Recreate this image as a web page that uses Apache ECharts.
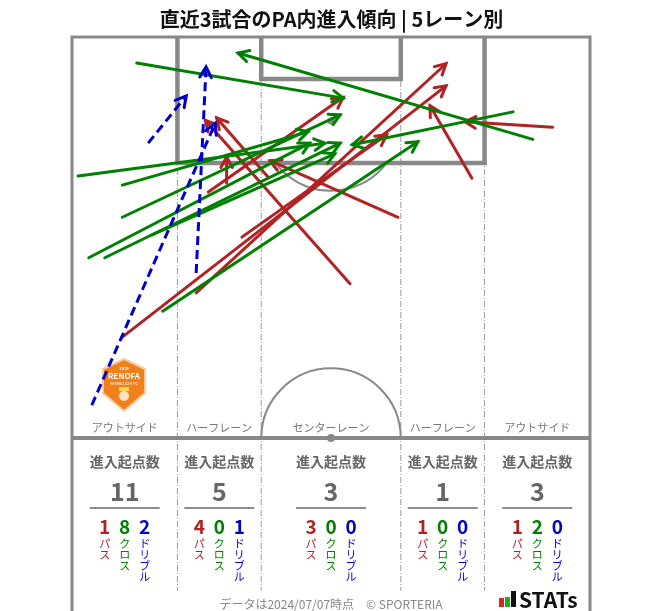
<!DOCTYPE html>
<html>
<head>
<meta charset="utf-8">
<script src="https://cdn.jsdelivr.net/npm/echarts@6/dist/echarts.min.js"></script>
<style>
  html, body { margin: 0; padding: 0; background: #fff; }
  #chart { width: 663px; height: 611px; }
</style>
</head>
<body>
<div id="chart"></div>
<script>
// lanes (metres across the pitch, 68m wide)
var laneNames = ['アウトサイド', 'ハーフレーン', 'センターレーン', 'ハーフレーン', 'アウトサイド'];
var laneEdges = [0, 13.84, 24.84, 43.16, 54.16, 68];
var entryTotals = [11, 5, 3, 1, 3];
var passCounts = [1, 4, 3, 1, 1];
var crossCounts = [8, 0, 0, 0, 2];
var dribbleCounts = [2, 1, 0, 0, 0];

// arrows: [fromX, fromY, toX, toY] in metres, y measured from the goal line
var passArrows = [
  [6.6, 39.3, 49.1, 6.4],
  [17.9, 20.3, 35.6, 7.9],
  [20.3, 19.1, 20.3, 15.7],
  [16.3, 33.5, 49.1, 3.5],
  [22.3, 26.2, 41.3, 12.8],
  [36.5, 32.3, 17.5, 10.9],
  [42.8, 23.6, 26.0, 16.2],
  [25.7, 18.3, 19.0, 10.6],
  [52.5, 18.5, 47.0, 9.0],
  [63.1, 11.8, 51.6, 11.1]
];
var crossArrows = [
  [8.5, 3.4, 35.6, 8.0],
  [0.8, 18.2, 33.2, 13.9],
  [6.6, 19.4, 31.0, 12.4],
  [6.6, 23.6, 35.2, 10.2],
  [2.2, 28.9, 31.2, 13.9],
  [4.3, 28.9, 35.2, 13.9],
  [10.5, 25.9, 34.5, 15.3],
  [11.9, 35.9, 45.4, 13.7],
  [60.5, 13.4, 21.8, 2.1],
  [57.9, 9.8, 36.8, 14.1]
];
var dribbleArrows = [
  [2.6, 48.2, 18.8, 11.3],
  [10.0, 13.9, 15.0, 7.7],
  [16.3, 30.9, 17.6, 3.9]
];

var PASS_COLOR = '#b22222';
var CROSS_COLOR = '#008000';
var DRIBBLE_COLOR = '#0000cd';
var LINE_GREY = '#888';
var FONT = '"Noto Sans CJK JP", "Noto Sans", sans-serif';

var chart = echarts.init(document.getElementById('chart'));

// pitch markings drawn through the grid's scales
function renderPitch(params, api) {
  var c = function (x, y) { return api.coord([x, y]); };
  var children = [];
  var bottom = 75.2;   // border runs down past the stats table
  var laneBottom = 72.5;

  // lane separators (dash-dot)
  [13.84, 24.84, 43.16, 54.16].forEach(function (x) {
    var a = c(x, 0), b = c(x, laneBottom);
    children.push({
      type: 'line',
      shape: { x1: a[0], y1: a[1], x2: b[0], y2: b[1] },
      style: { stroke: '#9a9a9a', lineWidth: 1, lineDash: [6, 2, 1, 2] }
    });
  });

  // center circle (upper half)
  var cc = c(34, 52.5);
  var r = c(34 + 9.15, 52.5)[0] - cc[0];
  children.push({
    type: 'arc',
    shape: { cx: cc[0], cy: cc[1], r: r, startAngle: Math.PI, endAngle: Math.PI * 2, clockwise: true },
    style: { stroke: LINE_GREY, lineWidth: 2, fill: null }
  });

  // penalty arc
  var ps = c(34, 11);
  var pr = c(34 + 9.15, 11)[0] - ps[0];
  var th = Math.acos(5.5 / 9.15);
  children.push({
    type: 'arc',
    shape: { cx: ps[0], cy: ps[1], r: pr, startAngle: Math.PI / 2 - th, endAngle: Math.PI / 2 + th, clockwise: true },
    style: { stroke: LINE_GREY, lineWidth: 2, fill: null }
  });
  children.push({ type: 'circle', shape: { cx: ps[0], cy: ps[1], r: 3.5 }, style: { fill: LINE_GREY } });
  children.push({ type: 'circle', shape: { cx: cc[0], cy: cc[1], r: 4 }, style: { fill: LINE_GREY } });

  // penalty box and goal area
  var box = [c(13.84, 0), c(13.84, 16.5), c(54.16, 16.5), c(54.16, 0)];
  children.push({
    type: 'polyline',
    shape: { points: box },
    style: { stroke: LINE_GREY, lineWidth: 4.5, fill: null }
  });
  var ga = [c(24.84, 0), c(24.84, 5.5), c(43.16, 5.5), c(43.16, 0)];
  children.push({
    type: 'polyline',
    shape: { points: ga },
    style: { stroke: LINE_GREY, lineWidth: 4.5, fill: null }
  });

  // halfway line
  var h1 = c(0, 52.5), h2 = c(68, 52.5);
  children.push({
    type: 'line',
    shape: { x1: h1[0], y1: h1[1], x2: h2[0], y2: h2[1] },
    style: { stroke: LINE_GREY, lineWidth: 4 }
  });

  // outer border
  children.push({
    type: 'polyline',
    shape: { points: [c(0, bottom), c(0, 0), c(68, 0), c(68, bottom)] },
    style: { stroke: LINE_GREY, lineWidth: 3, fill: null }
  });

  return { type: 'group', children: children };
}

function makeArrowRenderer(color, dashed) {
  return function (params, api) {
    var p1 = api.coord([api.value(0), api.value(1)]);
    var p2 = api.coord([api.value(2), api.value(3)]);
    var ang = Math.atan2(p2[1] - p1[1], p2[0] - p1[0]);
    var len = 12, spread = 0.5;
    var h1 = [p2[0] - len * Math.cos(ang - spread), p2[1] - len * Math.sin(ang - spread)];
    var h2 = [p2[0] - len * Math.cos(ang + spread), p2[1] - len * Math.sin(ang + spread)];
    var lineStyle = { stroke: color, lineWidth: 3, lineCap: 'round', lineJoin: 'round', fill: null };
    if (dashed) {
      lineStyle.lineDash = [9, 5];
      lineStyle.lineCap = 'butt';
    }
    return {
      type: 'group',
      children: [
        { type: 'line', shape: { x1: p1[0], y1: p1[1], x2: p2[0], y2: p2[1] }, style: lineStyle },
        { type: 'polyline', shape: { points: [h1, p2, h2] },
          style: { stroke: color, lineWidth: 3, lineCap: 'round', lineJoin: 'miter', fill: null } }
      ]
    };
  };
}

chart.setOption({
  backgroundColor: '#fff',
  animation: false,
  title: {
    text: '直近3試合のPA内進入傾向 | 5レーン別',
    left: 'center',
    top: 4,
    textStyle: { fontFamily: FONT, fontSize: 20, fontWeight: 'bold', color: '#111' }
  },
  grid: { left: 72, top: 37, width: 518, height: 401 },
  xAxis: { type: 'value', min: 0, max: 68, show: false },
  yAxis: { type: 'value', min: 0, max: 52.5, inverse: true, show: false },
  series: [
    { type: 'custom', renderItem: renderPitch, data: [[0, 0]], silent: true, z: 1 },
    { type: 'custom', name: 'パス', renderItem: makeArrowRenderer(PASS_COLOR, false), data: passArrows, z: 3,
      encode: { x: [0, 2], y: [1, 3] } },
    { type: 'custom', name: 'クロス', renderItem: makeArrowRenderer(CROSS_COLOR, false), data: crossArrows, z: 4,
      encode: { x: [0, 2], y: [1, 3] } },
    { type: 'custom', name: 'ドリブル', renderItem: makeArrowRenderer(DRIBBLE_COLOR, true), data: dribbleArrows, z: 5,
      encode: { x: [0, 2], y: [1, 3] } }
  ]
});

// lane labels and stats table
var graphics = [];
for (var i = 0; i < laneNames.length; i++) {
  var cx = chart.convertToPixel({ gridIndex: 0 }, [(laneEdges[i] + laneEdges[i + 1]) / 2, 0])[0];
  graphics.push({
    type: 'text', x: cx, y: 428,
    style: { text: laneNames[i], fill: '#777', font: '11px ' + FONT, align: 'center', verticalAlign: 'middle' }
  });
  graphics.push({
    type: 'text', x: cx, y: 462,
    style: { text: '進入起点数', fill: '#666', font: 'bold 14px ' + FONT, align: 'center', verticalAlign: 'middle' }
  });
  graphics.push({
    type: 'text', x: cx, y: 491,
    style: { text: String(entryTotals[i]), fill: '#666', font: 'bold 25px ' + FONT, align: 'center', verticalAlign: 'middle' }
  });
  graphics.push({
    type: 'line', shape: { x1: cx - 35, y1: 508, x2: cx + 35, y2: 508 },
    style: { stroke: '#666', lineWidth: 1.5 }
  });
  var cols = [
    { v: passCounts[i], t: 'パ\nス', c: PASS_COLOR, dx: -20 },
    { v: crossCounts[i], t: 'ク\nロ\nス', c: CROSS_COLOR, dx: 0 },
    { v: dribbleCounts[i], t: 'ド\nリ\nブ\nル', c: DRIBBLE_COLOR, dx: 20 }
  ];
  cols.forEach(function (col) {
    graphics.push({
      type: 'text', x: cx + col.dx, y: 527,
      style: { text: String(col.v), fill: col.c, font: 'bold 19px ' + FONT, align: 'center', verticalAlign: 'middle' }
    });
    graphics.push({
      type: 'text', x: cx + col.dx, y: 538,
      style: { text: col.t, fill: col.c, font: '11px ' + FONT, lineHeight: 11, align: 'center', verticalAlign: 'top' }
    });
  });
}

// club crest
graphics.push({
  type: 'group', x: 124, y: 385,
  children: [
    { type: 'polygon', shape: { points: [[0, -26], [21, -16], [21, 8], [0, 26], [-21, 8], [-21, -16]] },
      style: { fill: '#f08019', stroke: '#f9c9a0', lineWidth: 2 } },
    { type: 'text', x: 0, y: -17, style: { text: '1919', fill: '#fff', font: 'bold 4px ' + FONT, align: 'center', verticalAlign: 'middle' } },
    { type: 'text', x: 0, y: -9, style: { text: 'RENOFA', fill: '#fff', font: 'bold 8px ' + FONT, align: 'center', verticalAlign: 'middle' } },
    { type: 'text', x: 0, y: -2, style: { text: 'YAMAGUCHI FC', fill: '#fff', font: '4px ' + FONT, align: 'center', verticalAlign: 'middle' } },
    { type: 'circle', shape: { cx: 0, cy: 11, r: 5 }, style: { fill: '#fde3c8' } },
    { type: 'rect', shape: { x: -5, y: 2, width: 10, height: 4 }, style: { fill: '#ffd84a' } }
  ]
});

// footer
graphics.push({
  type: 'text', x: 331, y: 604,
  style: { text: 'データは2024/07/07時点　© SPORTERIA', fill: '#888', font: '12px ' + FONT, align: 'center', verticalAlign: 'middle' }
});
graphics.push({ type: 'rect', shape: { x: 499, y: 598, width: 5, height: 9 }, style: { fill: '#d22' } });
graphics.push({ type: 'rect', shape: { x: 505, y: 597, width: 5, height: 10 }, style: { fill: '#2a2' } });
graphics.push({ type: 'rect', shape: { x: 511, y: 591, width: 5, height: 16 }, style: { fill: '#111' } });
graphics.push({
  type: 'text', x: 519, y: 600,
  style: { text: 'STATs', fill: '#111', font: 'bold 21px ' + FONT, align: 'left', verticalAlign: 'middle' }
});

chart.setOption({ graphic: graphics });
</script>
</body>
</html>
